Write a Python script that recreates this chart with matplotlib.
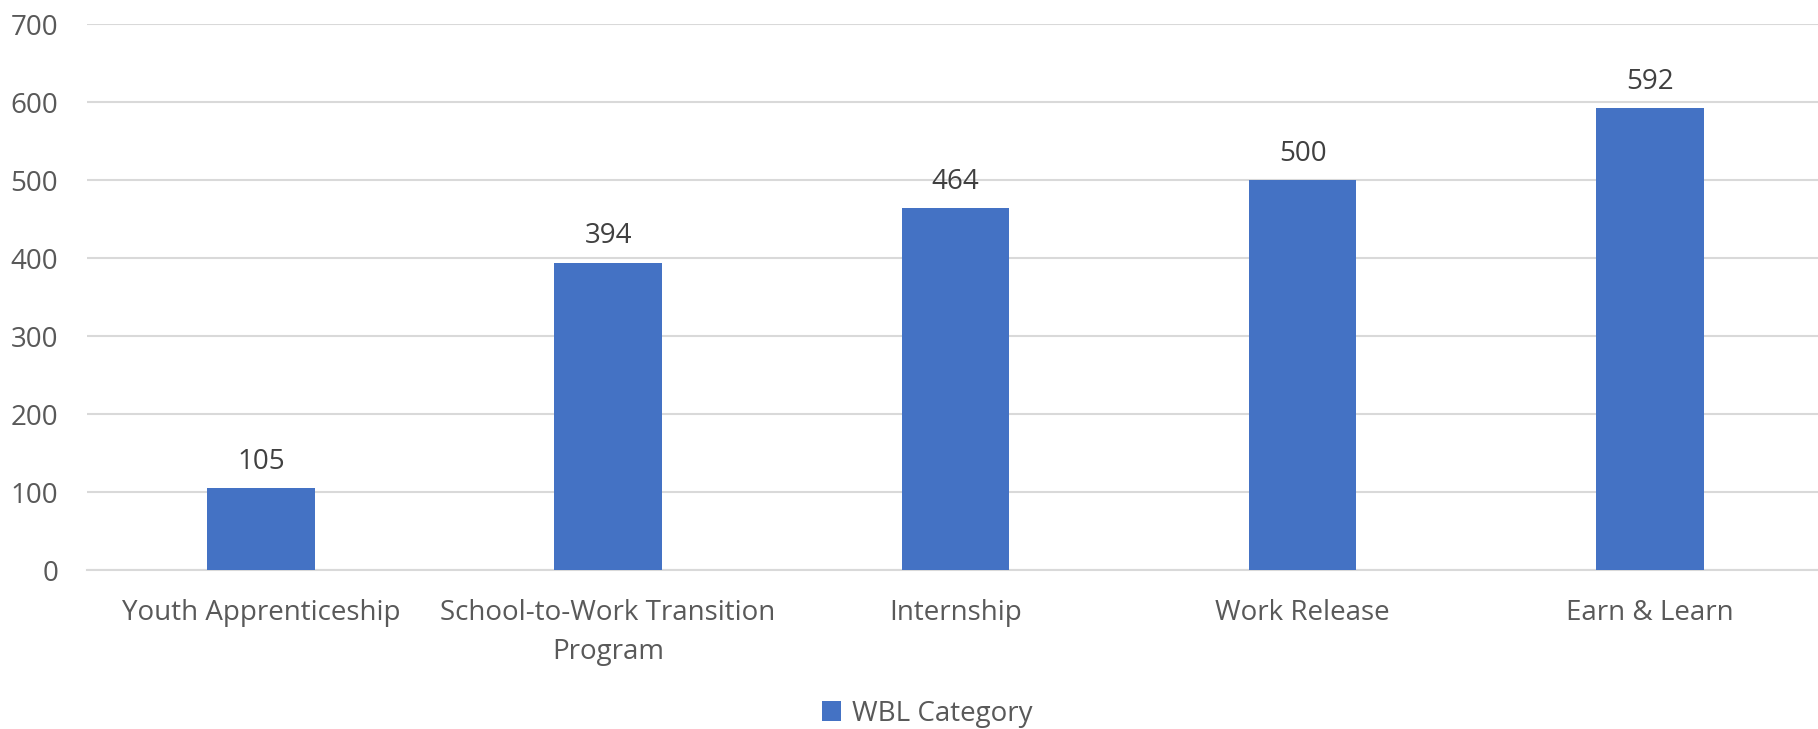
import matplotlib
matplotlib.use("Agg")
import matplotlib.pyplot as plt
import numpy as np

categories = ["Youth Apprenticeship", "School-to-Work Transition\nProgram",
              "Internship", "Work Release", "Earn & Learn"]
values = [105, 394, 464, 500, 592]
series_name = "WBL Category"
yticks = [0, 100, 200, 300, 400, 500, 600, 700]

plt.rcParams["font.family"] = ["Open Sans", "DejaVu Sans"]

fig = plt.figure(figsize=(18.18, 7.29), dpi=100)
ax = fig.add_axes([0.048, 0.218, 0.955, 0.749])

x = np.arange(len(categories))
bars = ax.bar(x, values, width=0.31, color="#4472C4", label=series_name, zorder=3)

for b, v in zip(bars, values):
	ax.annotate(str(v), (b.get_x() + b.get_width() / 2, v), xytext=(0, 9),
		textcoords="offset points", ha="center", va="bottom",
		fontsize=20, color="#404040")

ax.set_xlim(-0.5, len(categories) - 0.5)
ax.set_ylim(0, 700)
ax.set_yticks(yticks)
ax.set_xticks(x)
ax.set_xticklabels(categories, fontsize=20, color="#595959", linespacing=1.5)
ax.tick_params(axis="y", labelsize=20, labelcolor="#595959", length=0, pad=21)
ax.tick_params(axis="x", length=0, pad=21)
ax.grid(axis="y", color="#D9D9D9", linewidth=1.5, zorder=0)
for s in ["top", "right", "left"]:
	ax.spines[s].set_visible(False)
ax.spines["bottom"].set_color("#D9D9D9")
ax.spines["bottom"].set_linewidth(1.5)

fig.legend(loc="center", bbox_to_anchor=(0.51, 0.021), frameon=False,
	fontsize=20, labelcolor="#595959", handlelength=0.7, handleheight=0.7,
	handletextpad=0.4)

plt.savefig("out.png", format="png")
plt.close()
